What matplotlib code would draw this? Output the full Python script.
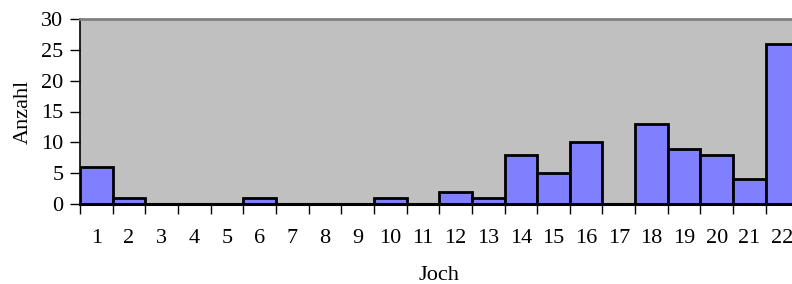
import matplotlib.pyplot as plt

plt.rcParams['font.family'] = ['Liberation Serif', 'DejaVu Serif']

joch = [str(i) for i in range(1, 23)]
anzahl = [6, 1, 0, 0, 0, 1, 0, 0, 0, 1, 0, 2, 1, 8, 5, 10, 0, 13, 9, 8, 4, 26]

fig = plt.figure(figsize=(7.92, 2.84), dpi=100)
# plot area runs past the right edge, like the original
ax = fig.add_axes([80 / 792, 1 - 204 / 284, (798.4 - 80) / 792, (204 - 19) / 284])
ax.set_facecolor('#C0C0C0')

pos = range(len(joch))
ax.bar(pos, anzahl, width=1.0, color='#8080FF', edgecolor='black', linewidth=2)

ax.set_xlim(-0.5, len(joch) - 0.5)
ax.set_ylim(0, 30)
ax.set_yticks(range(0, 31, 5))
ax.tick_params(axis='y', direction='out', length=7, width=1, labelsize=16, pad=5)

# ticks on category boundaries, labels centred under the bars
ax.set_xticks([p - 0.5 for p in pos])
ax.set_xticklabels([])
ax.set_xticks(list(pos), minor=True)
ax.set_xticklabels(joch, minor=True)
ax.tick_params(axis='x', which='major', direction='out', length=7, width=1)
ax.tick_params(axis='x', which='minor', length=0, labelsize=16, pad=18)

ax.spines['left'].set_linewidth(1.2)
ax.spines['bottom'].set_linewidth(2.2)
ax.spines['top'].set_color('#808080')
ax.spines['top'].set_linewidth(2)
ax.spines['right'].set_visible(False)

ax.set_ylabel('Anzahl', fontsize=16, labelpad=6)
ax.set_xlabel('Joch', fontsize=16, labelpad=13)

fig.savefig('out.png', dpi=100)
